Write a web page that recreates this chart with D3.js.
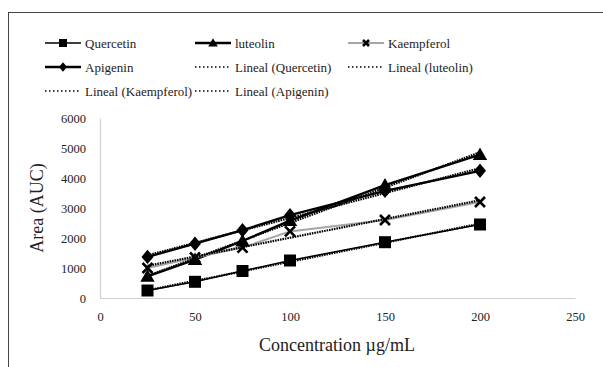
<!DOCTYPE html>
<html>
<head>
<meta charset="utf-8">
<script src="https://cdn.jsdelivr.net/npm/d3@7.9.0/dist/d3.min.js"></script>
<style>
  body { margin: 0; background: #fff; }
  svg text { font-family: "Liberation Serif", serif; }
</style>
</head>
<body>
<svg id="vis"></svg>
<script>
const width = 603;
const height = 367;

// --- data ---
const concentrations = [25, 50, 75, 100, 150, 200];
const quercetin  = [250, 540, 900, 1250, 1860, 2450];
const luteolin   = [720, 1280, 1900, 2580, 3760, 4780];
const kaempferol = [1000, 1350, 1680, 2220, 2600, 3200];
const apigenin   = [1370, 1810, 2260, 2760, 3570, 4240];
const xTicks = [0, 50, 100, 150, 200, 250];
const yTicks = [0, 1000, 2000, 3000, 4000, 5000, 6000];

const series = [
  { name: "Quercetin", values: quercetin, marker: "square", color: "#000", lw: 1.6 },
  { name: "luteolin", values: luteolin, marker: "triangle", color: "#000", lw: 2.4 },
  { name: "Kaempferol", values: kaempferol, marker: "cross", color: "#a6a6a6", lw: 2 },
  { name: "Apigenin", values: apigenin, marker: "diamond", color: "#000", lw: 2.4 }
];

const FONT = "Liberation Serif, serif";
const svg = d3.select("#vis").attr("width", width).attr("height", height);

// outer frame (runs off the right/bottom of the picture)
svg.append("rect")
  .attr("x", 8.5).attr("y", 12.5)
  .attr("width", 700).attr("height", 500)
  .attr("fill", "none").attr("stroke", "#444").attr("stroke-width", 1);

const x = d3.scaleLinear().domain([0, 250]).range([100, 575]);
const y = d3.scaleLinear().domain([0, 6000]).range([298, 118]);

// axes
const xAxis = svg.append("g")
  .attr("transform", `translate(0,${y(0)})`)
  .call(d3.axisBottom(x).tickValues(xTicks).tickFormat(d3.format("d")).tickSize(0).tickPadding(14));
const yAxis = svg.append("g")
  .attr("transform", `translate(${x(0)},0)`)
  .call(d3.axisLeft(y).tickValues(yTicks).tickFormat(d3.format("d")).tickSize(0).tickPadding(14));

[xAxis, yAxis].forEach(g => {
  g.attr("font-family", FONT);
  g.select(".domain").attr("stroke", "#d0d0d0").attr("stroke-width", 1.2);
  g.selectAll("text")
    .attr("font-size", 12.5)
    .attr("fill", "#222");
});

// axis titles
svg.append("text")
  .attr("x", 337).attr("y", 351)
  .attr("text-anchor", "middle")
  .attr("font-family", FONT)
  .attr("font-size", 18).attr("fill", "#222")
  .text("Concentration µg/mL");

svg.append("text")
  .attr("transform", `translate(43,208) rotate(-90)`)
  .attr("text-anchor", "middle")
  .attr("font-family", FONT)
  .attr("font-size", 18).attr("fill", "#222")
  .text("Area (AUC)");

// markers
function drawMarker(g, type, cx, cy, s) {
  if (type === "square") {
    g.append("rect").attr("x", cx - s / 2).attr("y", cy - s / 2)
      .attr("width", s).attr("height", s).attr("fill", "#000");
  } else if (type === "triangle") {
    g.append("path")
      .attr("d", `M${cx},${cy - s * 0.6} L${cx + s * 0.6},${cy + s * 0.45} L${cx - s * 0.6},${cy + s * 0.45} Z`)
      .attr("fill", "#000");
  } else if (type === "diamond") {
    g.append("path")
      .attr("d", `M${cx},${cy - s * 0.6} L${cx + s * 0.5},${cy} L${cx},${cy + s * 0.6} L${cx - s * 0.5},${cy} Z`)
      .attr("fill", "#000");
  } else if (type === "cross") {
    const h = s / 2;
    g.append("path")
      .attr("d", `M${cx - h},${cy - h} L${cx + h},${cy + h} M${cx + h},${cy - h} L${cx - h},${cy + h}`)
      .attr("stroke", "#000").attr("stroke-width", 2.6).attr("fill", "none");
  }
}

const line = d3.line().x(d => x(d[0])).y(d => y(d[1]));

// least-squares trendline ("Lineal")
function fit(xs, ys) {
  const mx = d3.mean(xs), my = d3.mean(ys);
  const b = d3.sum(xs, (v, i) => (v - mx) * (ys[i] - my)) / d3.sum(xs, v => (v - mx) ** 2);
  return { a: my - b * mx, b };
}

const plot = svg.append("g");

// series lines
series.forEach(s => {
  plot.append("path")
    .datum(concentrations.map((c, i) => [c, s.values[i]]))
    .attr("d", line)
    .attr("fill", "none")
    .attr("stroke", s.color)
    .attr("stroke-width", s.lw);
});

// trendlines
series.forEach(s => {
  const f = fit(concentrations, s.values);
  const x0 = d3.min(concentrations), x1 = d3.max(concentrations);
  plot.append("path")
    .datum([[x0, f.a + f.b * x0], [x1, f.a + f.b * x1]])
    .attr("d", line)
    .attr("fill", "none")
    .attr("stroke", "#000")
    .attr("stroke-width", 2.2)
    .attr("stroke-dasharray", "1.6,0.9");
});

// markers on top
series.forEach(s => {
  const size = s.marker === "cross" ? 10 : 12;
  concentrations.forEach((c, i) => drawMarker(plot, s.marker, x(c), y(s.values[i]), size));
});

// legend
const legendItems = [
  { label: "Quercetin", s: series[0], col: 0, row: 0 },
  { label: "luteolin", s: series[1], col: 1, row: 0 },
  { label: "Kaempferol", s: series[2], col: 2, row: 0 },
  { label: "Apigenin", s: series[3], col: 0, row: 1 },
  { label: "Lineal (Quercetin)", col: 1, row: 1 },
  { label: "Lineal (luteolin)", col: 2, row: 1 },
  { label: "Lineal (Kaempferol)", col: 0, row: 2 },
  { label: "Lineal (Apigenin)", col: 1, row: 2 }
];
const colX = [45, 195, 348];
const rowY = [43, 67, 91];

const legend = svg.append("g");
legendItems.forEach(it => {
  const lx = colX[it.col], ly = rowY[it.row];
  if (it.s) {
    legend.append("line")
      .attr("x1", lx).attr("x2", lx + 36).attr("y1", ly).attr("y2", ly)
      .attr("stroke", it.s.color).attr("stroke-width", it.s.lw);
    const ms = it.s.marker === "cross" ? 6 : 8;
    drawMarker(legend, it.s.marker, lx + 18, ly, ms);
  } else {
    legend.append("line")
      .attr("x1", lx).attr("x2", lx + 36).attr("y1", ly).attr("y2", ly)
      .attr("stroke", "#000").attr("stroke-width", 1.5)
      .attr("stroke-dasharray", "1.5,2.5");
  }
  legend.append("text")
    .attr("x", lx + 40).attr("y", ly + 4.5)
    .attr("font-family", FONT)
    .attr("font-size", 13).attr("fill", "#222")
    .text(it.label);
});
</script>
</body>
</html>
